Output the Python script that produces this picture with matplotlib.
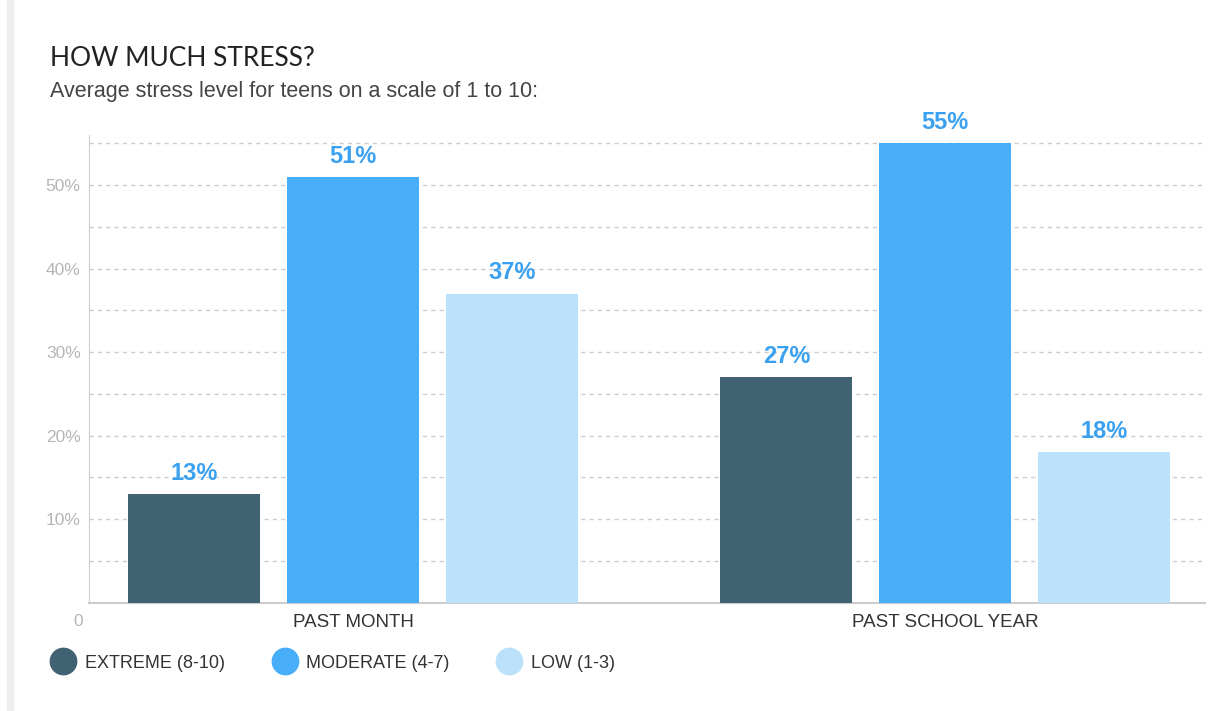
import numpy as np
import matplotlib.pyplot as plt
from matplotlib.lines import Line2D

groups = ['PAST MONTH', 'PAST SCHOOL YEAR']
series = ['EXTREME (8-10)', 'MODERATE (4-7)', 'LOW (1-3)']
extreme = [13, 27]
moderate = [51, 55]
low = [37, 18]
colors = ['#406273', '#49aefa', '#bbe2fa']

fig = plt.figure(figsize=(12.09, 7.11), dpi=100)
ax = fig.add_axes([89/1209, 1 - 602.5/711, (1205-89)/1209, (602.5-135)/711])

x = np.arange(len(groups))
width = 0.223
step = 0.268
for i, (vals, c) in enumerate(zip([extreme, moderate, low], colors)):
	pos = x + (i - 1) * step
	ax.bar(pos, vals, width, color=c, zorder=3)
	for p, v in zip(pos, vals):
		ax.text(p, v + 1.1, f'{v}%', ha='center', va='bottom', color='#3aa0f0',
				fontsize=17, fontweight='bold', family='Liberation Sans')

ax.set_xlim(-0.446, 1.439)
ax.set_ylim(0, 56)
ax.set_yticks(np.arange(5, 60, 5))
ax.set_yticklabels([f'{t}%' if t % 10 == 0 and t < 55 else '' for t in range(5, 60, 5)])
ax.grid(axis='y', linestyle=(0, (3, 3)), color='#cccccc', linewidth=1, zorder=0)
ax.tick_params(axis='y', length=0, labelcolor='#b5b5b5', labelsize=12.5, pad=6)
ax.set_xticks(x)
ax.set_xticklabels(groups)
ax.tick_params(axis='x', length=0, labelcolor='#333333', labelsize=13.5, pad=8)
for lab in ax.get_xticklabels() + ax.get_yticklabels():
	lab.set_family('Liberation Sans')
for s in ['top', 'right']:
	ax.spines[s].set_visible(False)
ax.spines['left'].set_color('#cccccc')
ax.spines['bottom'].set_color('#cccccc')
ax.spines['bottom'].set_linewidth(1.5)

fig.text(78/1209, 1 - 622/711, '0', color='#b5b5b5', fontsize=12.5, ha='center', va='center',
		 family='Liberation Sans')

# left frame strip
fig.add_artist(plt.Rectangle((7/1209, 0), 6/1209, 1, color='#eeeeee', transform=fig.transFigure))

fig.text(50/1209, 1 - 58/711, 'HOW MUCH STRESS?', fontsize=19, color='#222222',
		 ha='left', va='center', family='Lato')
fig.text(50/1209, 1 - 91/711, 'Average stress level for teens on a scale of 1 to 10:',
		 fontsize=15.5, color='#444444', ha='left', va='center', family='Liberation Sans')

handles = [Line2D([], [], marker='o', linestyle='none', markersize=19, color=c) for c in colors]
leg = fig.legend(handles, series, loc='center left', bbox_to_anchor=(29/1209, 1 - 663/711),
				 ncol=3, frameon=False, handletextpad=0.2, columnspacing=2.3,
				 prop={'family': 'Liberation Sans', 'size': 13})
for t in leg.get_texts():
	t.set_color('#333333')

fig.savefig('out.png', dpi=100)
